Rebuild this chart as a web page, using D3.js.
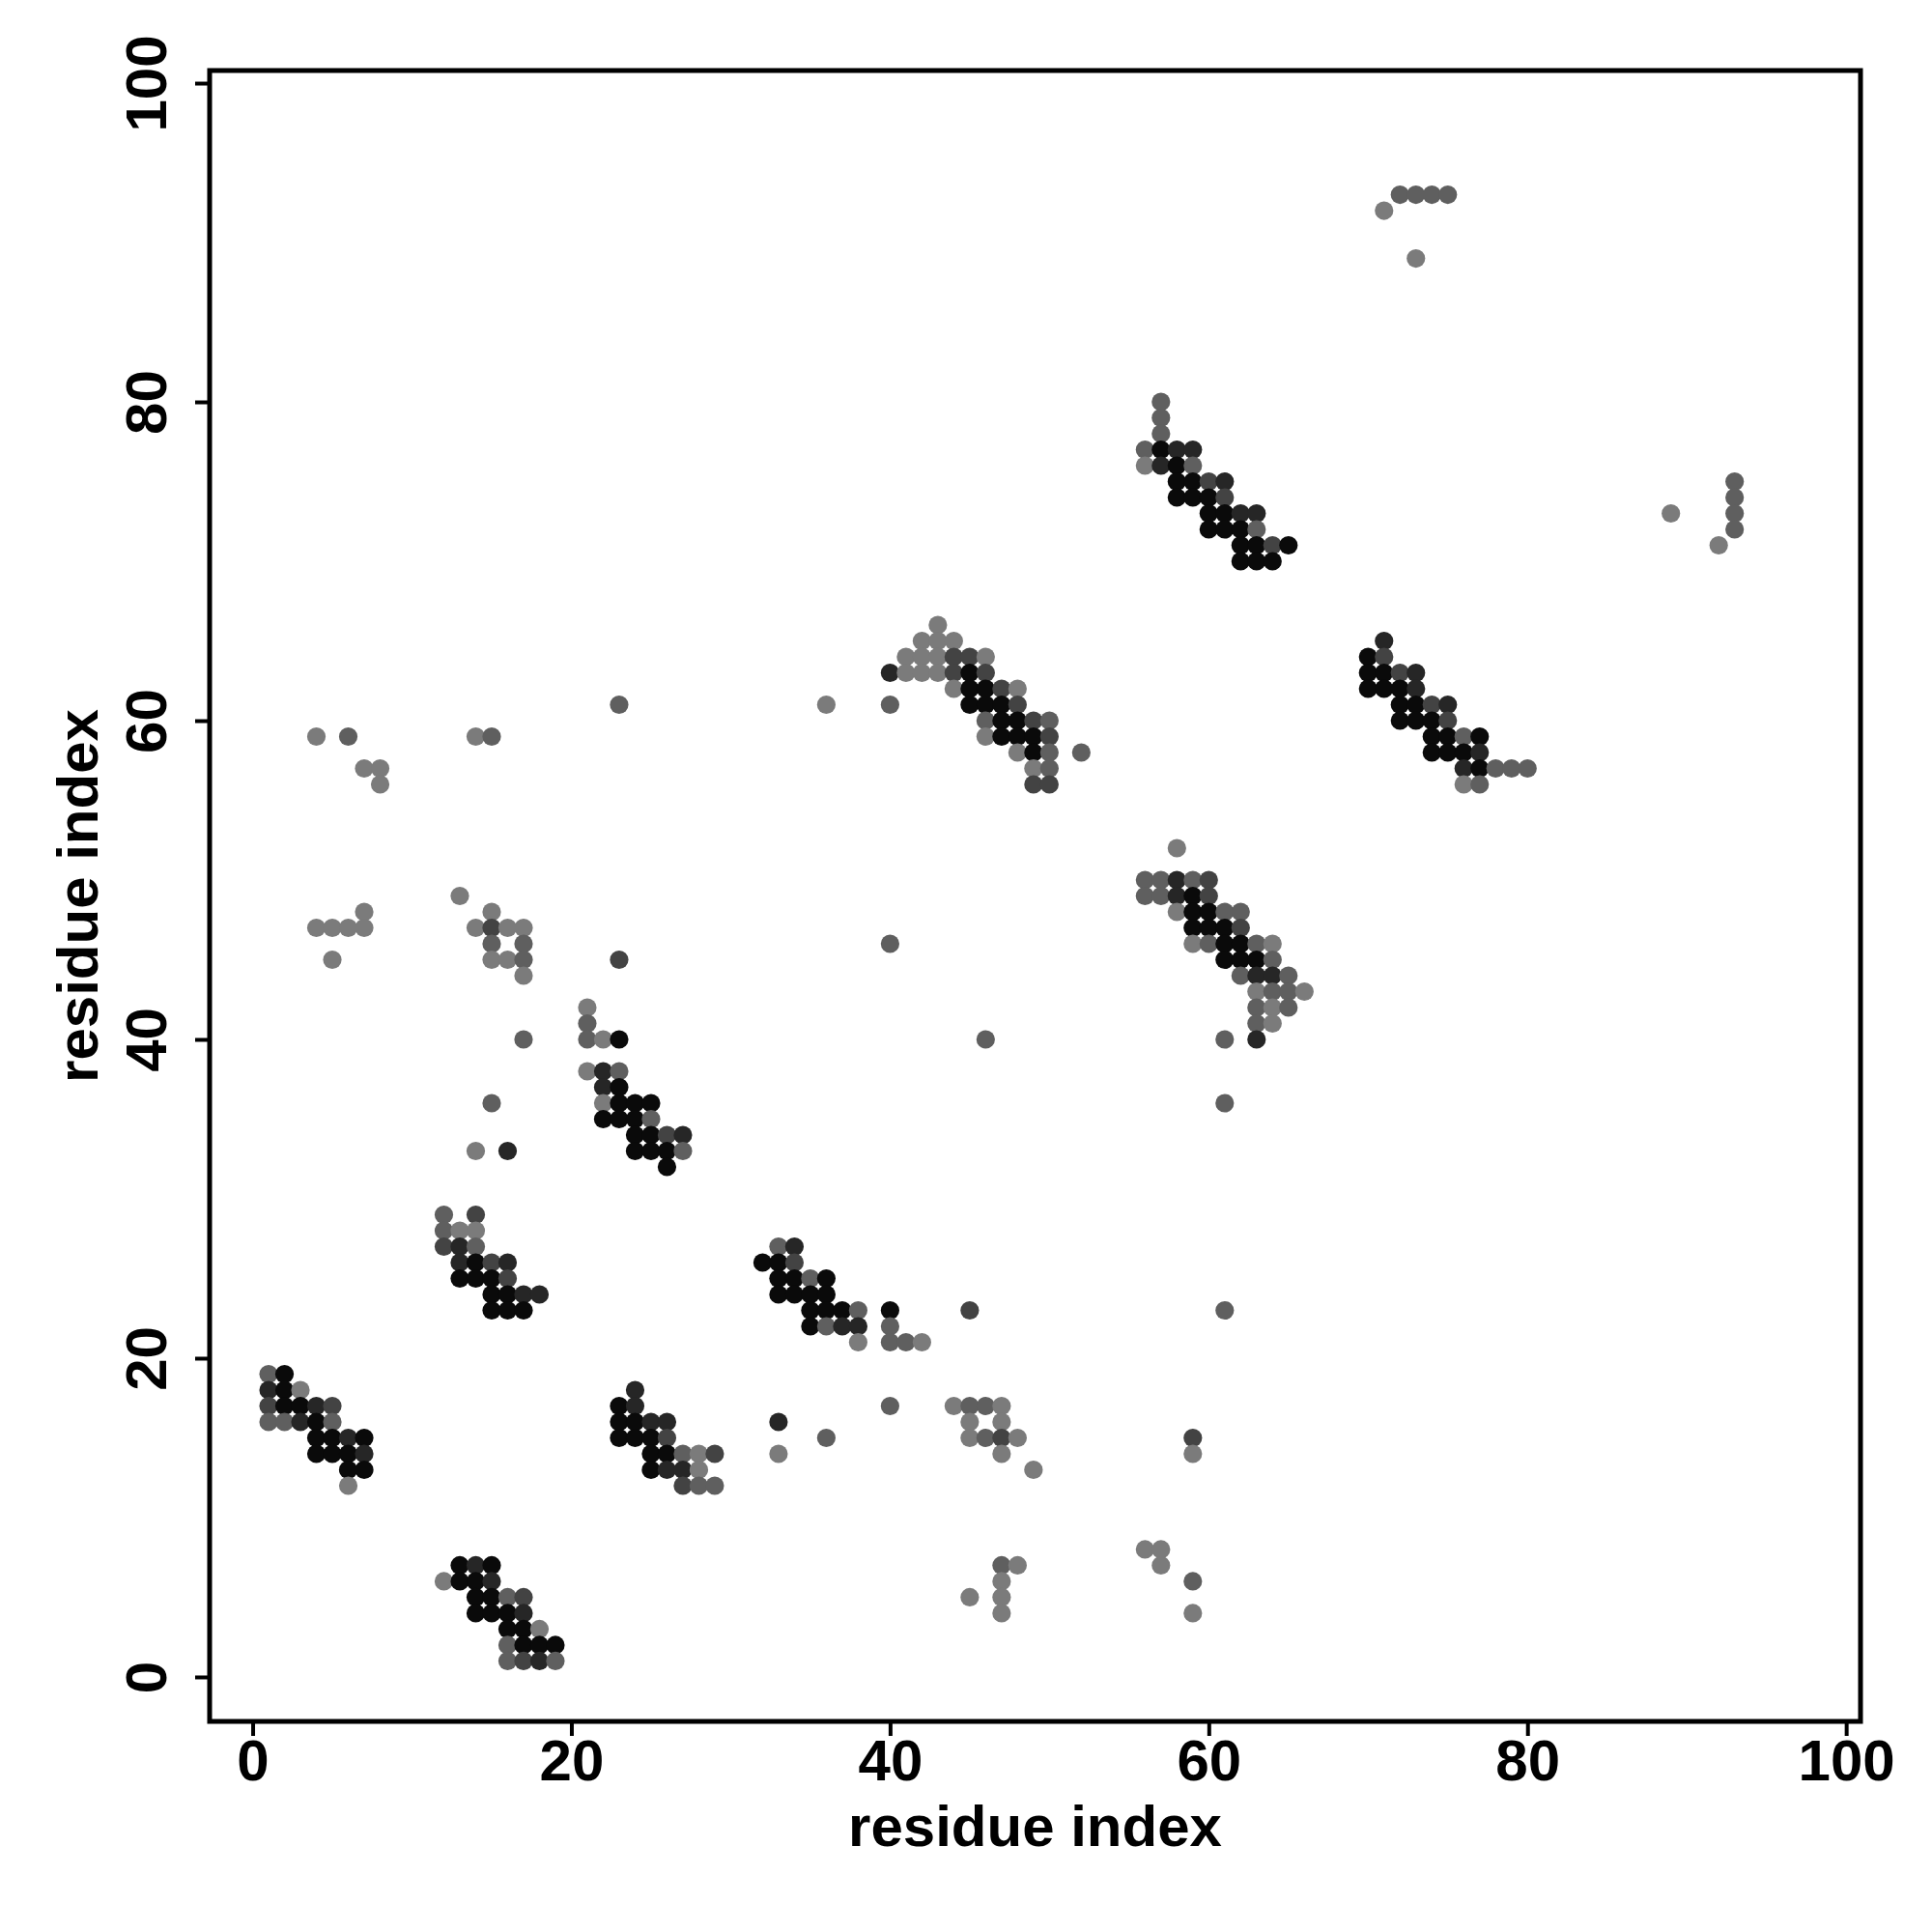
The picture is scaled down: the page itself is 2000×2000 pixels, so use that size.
<!DOCTYPE html>
<html>
<head>
<meta charset="utf-8">
<script src="https://cdn.jsdelivr.net/npm/d3@7"></script>
<style>
  html, body { margin: 0; padding: 0; background: #fff; }
  text { font-family: "Liberation Sans", Arial, Helvetica, sans-serif; font-weight: bold; }
</style>
</head>
<body>
<svg id="chart" width="2000" height="2000"></svg>
<script>
// Contact map: each entry is [residue i, residue j, contact level 1 (weak) .. 5 (strong)]
const clusterA = [[13,7,5],[14,7,4],[15,7,5],[12,6,1],[13,6,5],[14,6,5],[15,6,4],[14,5,5],[15,5,5],[16,5,2],[17,5,3],[14,4,5],[15,4,5],[16,4,5],[17,4,4],[16,3,5],[17,3,5],[18,3,1],[16,2,2],[17,2,5],[18,2,5],[19,2,5],[16,1,2],[17,1,3],[18,1,4],[19,1,2]];
const clusterB = [[1,19,2],[2,19,5],[1,18,4],[2,18,5],[3,18,1],[1,17,3],[2,17,5],[3,17,5],[4,17,4],[5,17,3],[1,16,2],[2,16,2],[3,16,4],[4,16,5],[5,16,2],[4,15,5],[5,15,5],[6,15,4],[7,15,5],[4,14,5],[5,14,5],[6,14,5],[7,14,4],[6,13,5],[7,13,5],[6,12,1]];
const clusterC = [[24,18,4],[23,17,5],[24,17,4],[23,16,5],[24,16,5],[25,16,4],[26,16,4],[23,15,5],[24,15,5],[25,15,5],[26,15,3],[25,14,5],[26,14,5],[27,14,2],[28,14,1],[29,14,3],[25,13,5],[26,13,4],[27,13,4],[28,13,1],[27,12,3],[28,12,2],[29,12,2]];
const clusterD = [[21,42,1],[21,41,2],[21,40,2],[22,40,1],[23,40,5],[21,38,1],[22,38,4],[23,38,2],[22,37,4],[23,37,5],[22,36,1],[23,36,5],[24,36,5],[25,36,5],[22,35,5],[23,35,5],[24,35,5],[25,35,2],[24,34,5],[25,34,5],[26,34,3],[27,34,4],[24,33,5],[25,33,5],[26,33,5],[27,33,2],[26,32,5]];
const clusterE = [[12,29,2],[14,29,3],[12,28,2],[13,28,1],[14,28,1],[12,27,3],[13,27,4],[14,27,2],[13,26,4],[14,26,5],[15,26,3],[16,26,4],[13,25,5],[14,25,5],[15,25,5],[16,25,3],[15,24,5],[16,24,5],[17,24,4],[18,24,4],[15,23,5],[16,23,5],[17,23,5]];
const clusterF = [[33,27,2],[34,27,4],[32,26,5],[33,26,5],[34,26,3],[33,25,5],[34,25,5],[35,25,2],[36,25,5],[33,24,5],[34,24,5],[35,24,5],[36,24,5],[35,23,5],[36,23,5],[37,23,5],[38,23,2],[40,23,5],[35,22,5],[36,22,2],[37,22,4],[38,22,4],[40,22,2],[38,21,1],[40,21,2],[41,21,2],[42,21,1]];
const clusterG = [[4,59,1],[6,59,2],[14,59,1],[15,59,2],[7,57,1],[8,57,1],[8,56,1],[13,49,1],[7,48,1],[15,48,1],[4,47,1],[5,47,1],[6,47,1],[7,47,1],[14,47,1],[15,47,3],[16,47,1],[17,47,1],[15,46,2],[17,46,2],[5,45,1],[15,45,1],[16,45,1],[17,45,2],[17,44,1],[17,40,2],[15,36,2],[14,33,1],[16,33,4],[23,45,3],[23,61,2],[36,61,1],[40,61,2],[40,46,2],[46,40,2]];
const clusterH = [[45,23,3],[40,17,2],[44,17,1],[45,17,2],[46,17,2],[47,17,1],[33,16,4],[45,16,1],[47,16,1],[36,15,2],[45,15,1],[46,15,2],[47,15,3],[48,15,1],[33,14,1],[47,14,1],[49,13,1],[47,7,2],[48,7,1],[47,6,1],[47,5,1],[47,4,1],[45,5,1],[56,8,1],[57,8,1],[57,7,1],[59,6,2],[59,4,1],[59,15,3],[59,14,1],[61,23,2]];
const clusterI = [[43,66,1],[42,65,1],[43,65,1],[44,65,1],[41,64,1],[42,64,1],[43,64,1],[44,64,3],[45,64,3],[46,64,1],[40,63,4],[41,63,1],[42,63,1],[43,63,1],[44,63,3],[45,63,5],[46,63,3],[44,62,1],[45,62,5],[46,62,5],[47,62,3],[48,62,1],[45,61,5],[46,61,5],[47,61,5],[48,61,3],[46,60,2],[47,60,5],[48,60,5],[49,60,3],[50,60,2],[46,59,1],[47,59,5],[48,59,5],[49,59,5],[50,59,3],[48,58,1],[49,58,5],[50,58,2],[52,58,2],[49,57,1],[50,57,2],[49,56,3],[50,56,3]];
const clusterJ = [[58,52,1],[56,50,2],[57,50,2],[58,50,4],[59,50,2],[60,50,3],[56,49,2],[57,49,2],[58,49,4],[59,49,5],[60,49,3],[58,48,1],[59,48,5],[60,48,5],[61,48,2],[62,48,2],[59,47,5],[60,47,5],[61,47,5],[62,47,3],[59,46,1],[60,46,2],[61,46,5],[62,46,5],[63,46,2],[64,46,1],[61,45,5],[62,45,5],[63,45,5],[64,45,2],[62,44,2],[63,44,4],[64,44,4],[65,44,2],[63,43,1],[64,43,2],[65,43,2],[66,43,1],[63,42,2],[64,42,1],[65,42,2],[63,41,2],[64,41,1],[61,40,2],[63,40,4],[61,36,2]];
const clusterK = [[57,80,2],[57,79,2],[57,78,2],[56,77,2],[57,77,5],[58,77,4],[59,77,4],[56,76,1],[57,76,4],[58,76,5],[59,76,2],[58,75,5],[59,75,5],[60,75,3],[61,75,4],[58,74,5],[59,74,5],[60,74,5],[61,74,3],[60,73,5],[61,73,5],[62,73,4],[63,73,4],[60,72,5],[61,72,5],[62,72,5],[63,72,2],[62,71,5],[63,71,5],[64,71,3],[65,71,5],[62,70,5],[63,70,5],[64,70,5]];
const clusterL = [[71,65,4],[70,64,5],[71,64,3],[70,63,5],[71,63,5],[72,63,3],[73,63,4],[70,62,5],[71,62,5],[72,62,5],[73,62,4],[72,61,5],[73,61,5],[74,61,3],[75,61,4],[72,60,5],[73,60,5],[74,60,5],[75,60,3],[74,59,5],[75,59,5],[76,59,2],[77,59,5],[74,58,5],[75,58,5],[76,58,5],[77,58,4],[76,57,4],[77,57,5],[78,57,2],[79,57,2],[80,57,2],[76,56,1],[77,56,2]];
const clusterM = [[72,93,2],[73,93,2],[74,93,2],[75,93,2],[71,92,1],[73,89,1],[93,75,2],[93,74,2],[93,73,2],[93,72,2],[89,73,1],[92,71,1]];

const xTicks = [0, 20, 40, 60, 80, 100];
const yTicks = [0, 20, 40, 60, 80, 100];
const xLabel = "residue index";
const yLabel = "residue index";

const contacts = [].concat(clusterA, clusterB, clusterC, clusterD, clusterE, clusterF,
  clusterG, clusterH, clusterI, clusterJ, clusterK, clusterL, clusterM);

const svg = d3.select("#chart");
const plotL = 217, plotR = 1926, plotT = 73, plotB = 1782;
const FONT = 60;

const x = d3.scaleLinear().domain([-2.7, 100.9]).range([plotL, plotR]);
const y = d3.scaleLinear().domain([-2.79, 100.79]).range([plotB, plotT]);
const shade = d3.scaleLinear().domain([1, 5]).range(["#7b7b7b", "#0a0a0a"]);

svg.append("rect").attr("width", 2000).attr("height", 2000).attr("fill", "#fff");

// points
svg.append("g").selectAll("circle").data(contacts).join("circle")
  .attr("cx", d => x(d[0]))
  .attr("cy", d => y(d[1]))
  .attr("r", 9.6)
  .attr("fill", d => shade(d[2]));

// x axis
const gx = svg.append("g").attr("transform", `translate(0,${plotB})`)
  .call(d3.axisBottom(x).tickValues(xTicks).tickSize(15).tickPadding(3).tickFormat(d3.format("d")));
gx.select(".domain").remove();
gx.selectAll(".tick line").attr("stroke", "#000").attr("stroke-width", 4);
gx.selectAll(".tick text").attr("font-size", FONT).attr("fill", "#000")
  .attr("font-family", "Liberation Sans, Arial, sans-serif").attr("font-weight", "bold");

// y axis
const gy = svg.append("g").attr("transform", `translate(${plotL},0)`)
  .call(d3.axisLeft(y).tickValues(yTicks).tickSize(15).tickFormat(d3.format("d")));
gy.select(".domain").remove();
gy.selectAll(".tick line").attr("stroke", "#000").attr("stroke-width", 4);
gy.selectAll(".tick text").remove();
gy.selectAll(".tick").append("text")
  .attr("transform", "translate(-45,0) rotate(-90)")
  .attr("text-anchor", "middle")
  .attr("x", 0).attr("y", 0)
  .attr("font-size", FONT).attr("fill", "#000")
  .attr("font-family", "Liberation Sans, Arial, sans-serif").attr("font-weight", "bold")
  .text(d => d);

// frame
svg.append("rect").attr("x", plotL).attr("y", plotT)
  .attr("width", plotR - plotL).attr("height", plotB - plotT)
  .attr("fill", "none").attr("stroke", "#000").attr("stroke-width", 5);

// axis titles
svg.append("text").attr("x", (plotL + plotR) / 2).attr("y", 1911)
  .attr("text-anchor", "middle").attr("font-size", FONT).attr("fill", "#000")
  .text(xLabel);
svg.append("text").attr("transform", `translate(101,${(plotT + plotB) / 2}) rotate(-90)`)
  .attr("text-anchor", "middle").attr("font-size", FONT).attr("fill", "#000")
  .text(yLabel);
</script>
</body>
</html>
